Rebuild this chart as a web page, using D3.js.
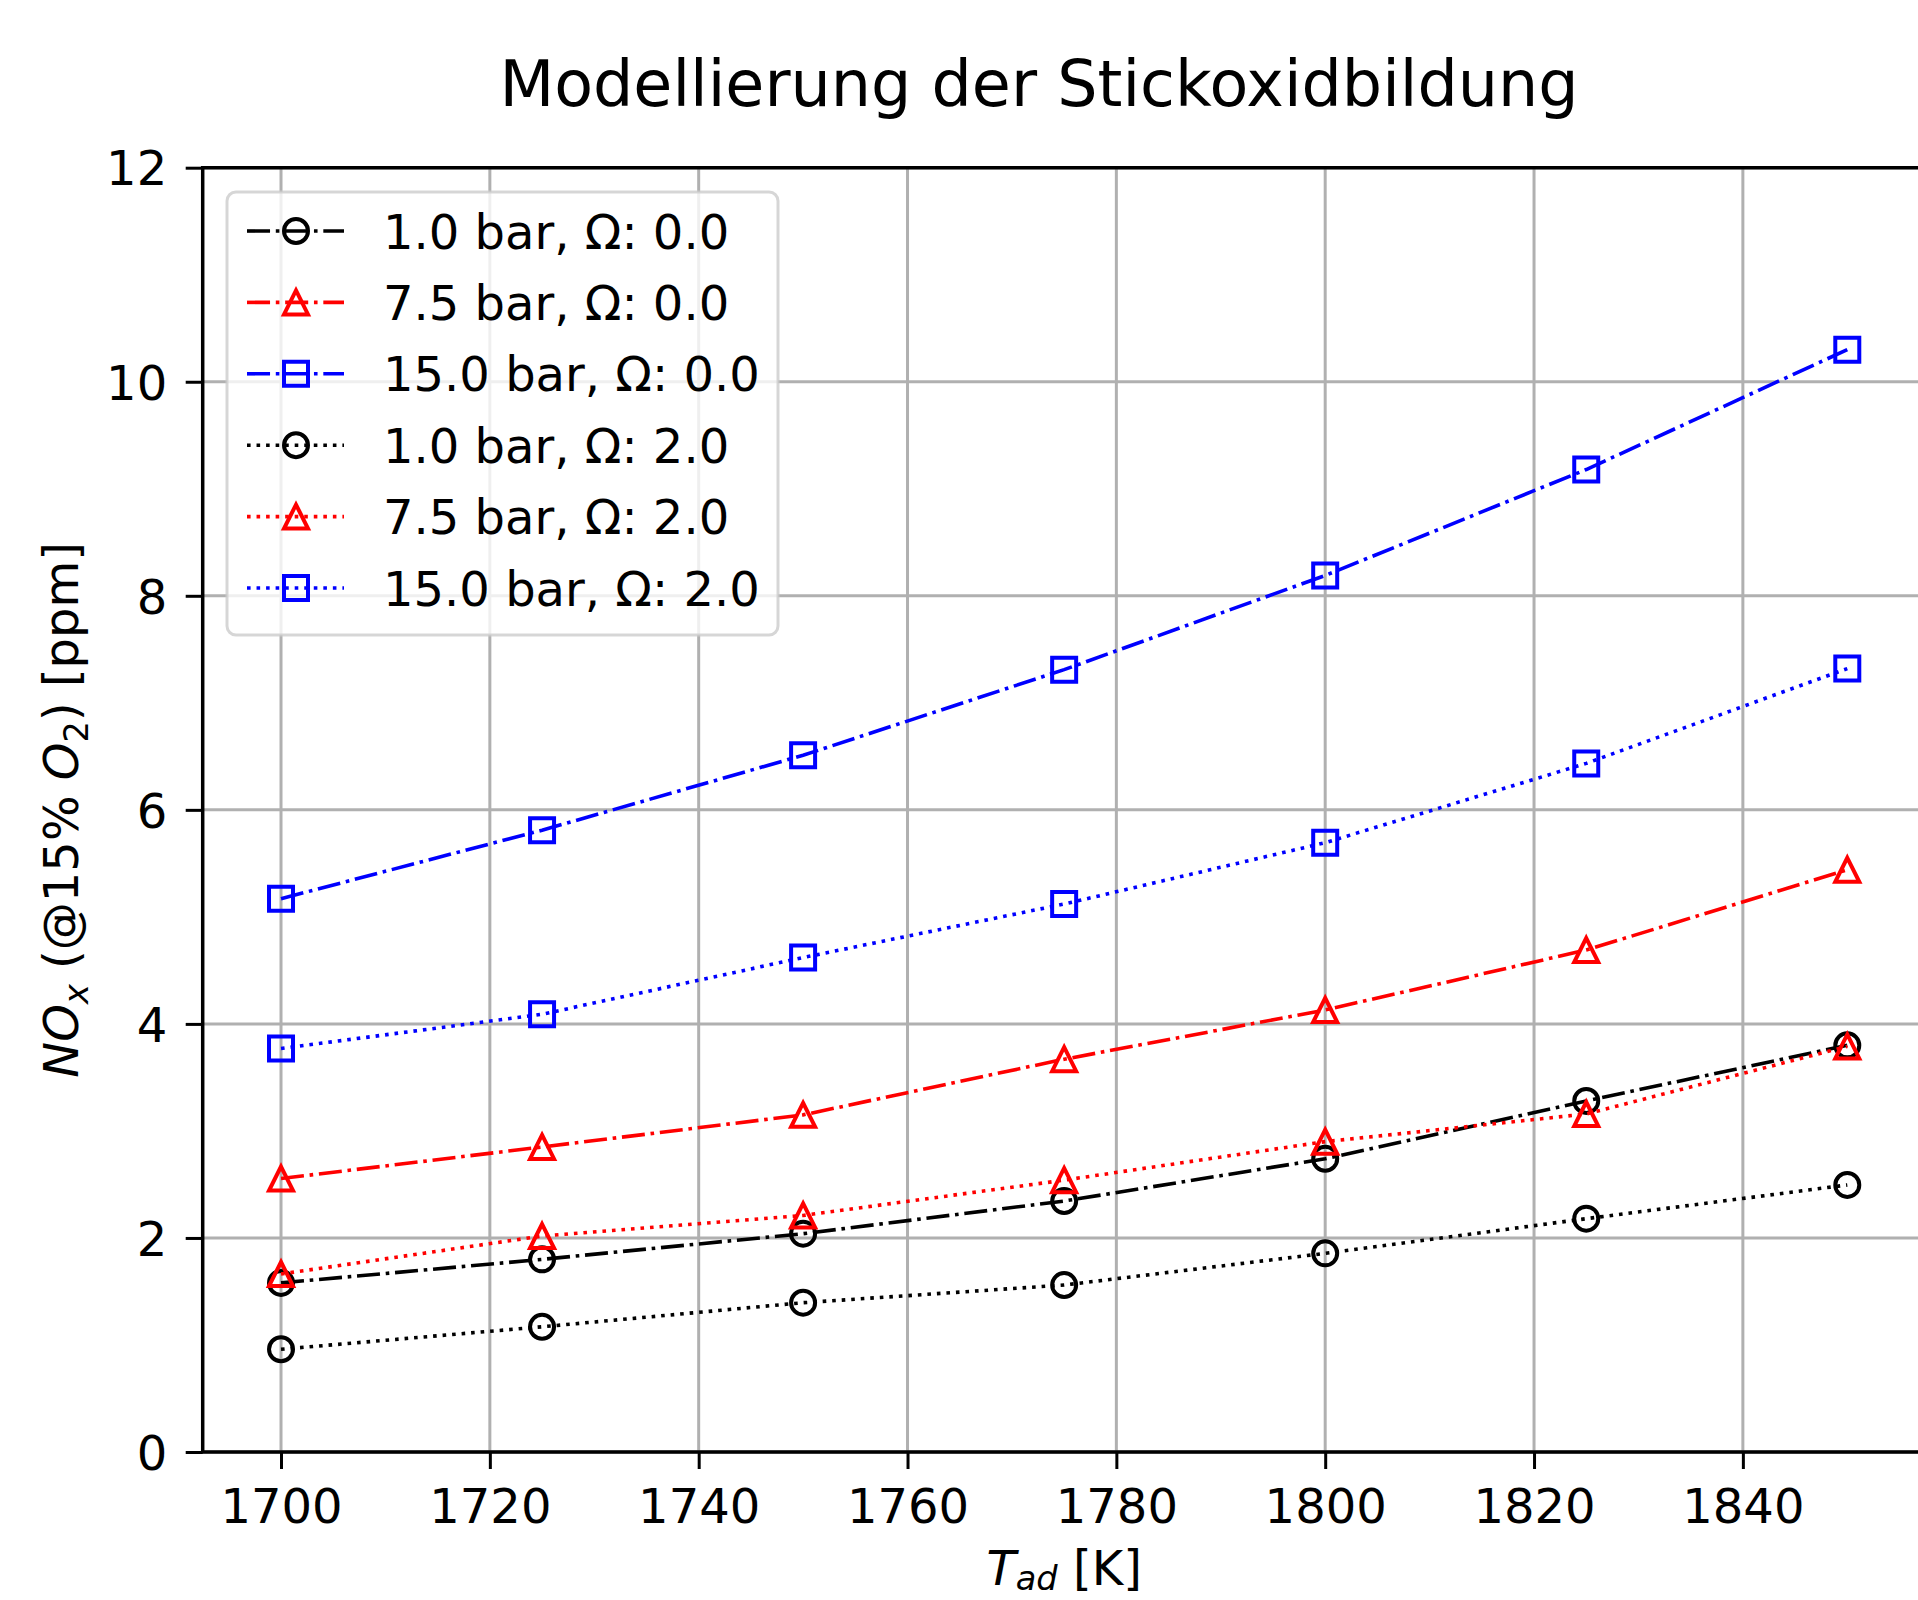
<!DOCTYPE html>
<html>
<head>
<meta charset="utf-8">
<script src="https://cdn.jsdelivr.net/npm/d3@7/dist/d3.min.js"></script>
<style>
  body { margin: 0; background: #fff; }
  svg { display: block; font-family: "DejaVu Sans", sans-serif; }
</style>
</head>
<body>
<svg id="chart" width="1918" height="1600"></svg>
<script>
// adiabatic flame temperature [K]
const temps = [1700, 1725, 1750, 1775, 1800, 1825, 1850];

// NOx (@15% O2) [ppm]
const nox_p1_om0 = [1.58, 1.80, 2.04, 2.345, 2.74, 3.28, 3.80];
const nox_p75_om0 = [2.555, 2.85, 3.15, 3.67, 4.13, 4.69, 5.44];
const nox_p15_om0 = [5.17, 5.81, 6.51, 7.31, 8.19, 9.18, 10.30];
const nox_p1_om2 = [0.96, 1.17, 1.395, 1.56, 1.856, 2.18, 2.495];
const nox_p75_om2 = [1.663, 2.018, 2.21, 2.54, 2.90, 3.158, 3.79];
const nox_p15_om2 = [3.77, 4.09, 4.62, 5.12, 5.693, 6.434, 7.32];

const seriesLabels = [
  '1.0 bar, Ω: 0.0', '7.5 bar, Ω: 0.0', '15.0 bar, Ω: 0.0',
  '1.0 bar, Ω: 2.0', '7.5 bar, Ω: 2.0', '15.0 bar, Ω: 2.0',
];
const seriesValues = [nox_p1_om0, nox_p75_om0, nox_p15_om0, nox_p1_om2, nox_p75_om2, nox_p15_om2];
const seriesColors = ['#000000', '#ff0000', '#0000ff', '#000000', '#ff0000', '#0000ff'];
const seriesMarkers = ['o', '^', 's', 'o', '^', 's'];
const seriesStyles = ['-.', '-.', '-.', ':', ':', ':'];

const xTicks = [1700, 1720, 1740, 1760, 1780, 1800, 1820, 1840];
const yTicks = [0, 2, 4, 6, 8, 10, 12];

const LW = 3.6;       // data line width
const MEW = 4;        // marker edge width
const MS = 12;        // marker half size
const FS = 48;        // base font size

const dashFor = (style) => (style === '-.'
  ? [6.4, 1.6, 1, 1.6].map((v) => v * LW).join(',')
  : [1, 1.65].map((v) => v * LW).join(','));

function markerPath(m) {
  if (m === 'o') return d3.arc()({ innerRadius: 0, outerRadius: MS, startAngle: 0, endAngle: 2 * Math.PI });
  if (m === 's') return `M${-MS},${-MS}H${MS}V${MS}H${-MS}Z`;
  return `M0,${-MS}L${MS},${MS}L${-MS},${MS}Z`;
}

const svg = d3.select('#chart');

const axLeft = 202.7;
const axRight = 1925.6;
const axTop = 167.7;
const axBottom = 1452;

const x = d3.scaleLinear().domain([1692.5, 1857.5]).range([axLeft, axRight]);
const y = d3.scaleLinear().domain([0, 12]).range([axBottom, axTop]);

svg.append('defs').append('clipPath')
  .attr('id', 'plotclip')
  .append('rect')
  .attr('x', axLeft)
  .attr('y', axTop)
  .attr('width', axRight - axLeft)
  .attr('height', axBottom - axTop);

// grid
const grid = svg.append('g');
grid.selectAll('.gx')
  .data(xTicks)
  .enter()
  .append('line')
  .attr('x1', (d) => x(d))
  .attr('x2', (d) => x(d))
  .attr('y1', axTop)
  .attr('y2', axBottom)
  .attr('stroke', '#b0b0b0')
  .attr('stroke-width', 3);
grid.selectAll('.gy')
  .data(yTicks)
  .enter()
  .append('line')
  .attr('x1', axLeft)
  .attr('x2', axRight)
  .attr('y1', (d) => y(d))
  .attr('y2', (d) => y(d))
  .attr('stroke', '#b0b0b0')
  .attr('stroke-width', 3);

// series
const plot = svg.append('g').attr('clip-path', 'url(#plotclip)');
const line = d3.line()
  .x((d) => x(d[0]))
  .y((d) => y(d[1]));

seriesValues.forEach((vals, i) => {
  const pts = temps.map((t, j) => [t, vals[j]]);
  plot.append('path')
    .attr('d', line(pts))
    .attr('fill', 'none')
    .attr('stroke', seriesColors[i])
    .attr('stroke-width', LW)
    .attr('stroke-dasharray', dashFor(seriesStyles[i]))
    .attr('stroke-linecap', 'butt');

  plot.selectAll(null)
    .data(pts)
    .enter()
    .append('path')
    .attr('transform', (d) => `translate(${x(d[0])},${y(d[1])})`)
    .attr('d', markerPath(seriesMarkers[i]))
    .attr('fill', 'none')
    .attr('stroke', seriesColors[i])
    .attr('stroke-width', MEW)
    .attr('stroke-linejoin', 'miter');
});

// axes
const xAxis = svg.append('g')
  .attr('transform', `translate(0,${axBottom})`)
  .call(d3.axisBottom(x).tickValues(xTicks).tickSize(17).tickPadding(20).tickFormat(d3.format('d')));
const yAxis = svg.append('g')
  .attr('transform', `translate(${axLeft},0)`)
  .call(d3.axisLeft(y).tickValues(yTicks).tickSize(17).tickPadding(18.5).tickFormat(d3.format('d')));

[xAxis, yAxis].forEach((ax) => {
  ax.select('.domain').remove();
  ax.selectAll('line').attr('stroke', '#000').attr('stroke-width', 3);
  ax.selectAll('text')
    .attr('fill', '#000')
    .style('font-family', '"DejaVu Sans"')
    .style('font-size', `${FS}px`);
});
yAxis.selectAll('text').attr('dy', '0.36em');

// spines
svg.append('path')
  .attr('d', `M${axRight},${axTop}H${axLeft}V${axBottom}H${axRight}`)
  .attr('fill', 'none')
  .attr('stroke', '#000')
  .attr('stroke-width', 3.5)
  .attr('stroke-linejoin', 'miter');

// legend
const lg = svg.append('g');
lg.append('rect')
  .attr('x', 227)
  .attr('y', 192)
  .attr('width', 551)
  .attr('height', 443)
  .attr('rx', 9)
  .attr('fill', '#fff')
  .attr('fill-opacity', 0.8)
  .attr('stroke', '#cccccc')
  .attr('stroke-opacity', 0.8)
  .attr('stroke-width', 3);

const rowY = d3.scaleLinear().domain([0, 5]).range([231, 588]);
seriesLabels.forEach((lab, i) => {
  const ry = rowY(i);
  lg.append('line')
    .attr('x1', 247)
    .attr('x2', 344)
    .attr('y1', ry)
    .attr('y2', ry)
    .attr('stroke', seriesColors[i])
    .attr('stroke-width', LW)
    .attr('stroke-dasharray', dashFor(seriesStyles[i]));
  lg.append('path')
    .attr('transform', `translate(296,${ry})`)
    .attr('d', markerPath(seriesMarkers[i]))
    .attr('fill', 'none')
    .attr('stroke', seriesColors[i])
    .attr('stroke-width', MEW);
  lg.append('text')
    .attr('x', 383)
    .attr('y', ry + 17.5)
    .style('font-size', `${FS}px`)
    .text(lab);
});

// title
svg.append('text')
  .attr('x', 1039)
  .attr('y', 106)
  .attr('text-anchor', 'middle')
  .style('font-size', '63.5px')
  .text('Modellierung der Stickoxidbildung');

// x label: T_ad [K]
const xl = svg.append('text')
  .attr('x', (axLeft + axRight) / 2)
  .attr('y', 1585)
  .attr('text-anchor', 'middle')
  .style('font-size', `${FS}px`);
xl.append('tspan').style('font-style', 'italic').text('T');
xl.append('tspan').style('font-style', 'italic').style('font-size', `${FS * 0.7}px`).attr('dy', 5).text('ad');
xl.append('tspan').attr('dy', -5).text(' [K]');

// y label: NO_x (@15% O_2) [ppm]
const yl = svg.append('text')
  .attr('transform', `translate(78,${(axTop + axBottom) / 2}) rotate(-90)`)
  .attr('text-anchor', 'middle')
  .style('font-size', `${FS}px`);
yl.append('tspan').style('font-style', 'italic').text('NO');
yl.append('tspan').style('font-style', 'italic').style('font-size', `${FS * 0.7}px`).attr('dy', 10).text('x');
yl.append('tspan').attr('dy', -10).text(' (@15% ');
yl.append('tspan').style('font-style', 'italic').text('O');
yl.append('tspan').style('font-size', `${FS * 0.7}px`).attr('dy', 10).text('2');
yl.append('tspan').attr('dy', -10).text(') [ppm]');
</script>
</body>
</html>
